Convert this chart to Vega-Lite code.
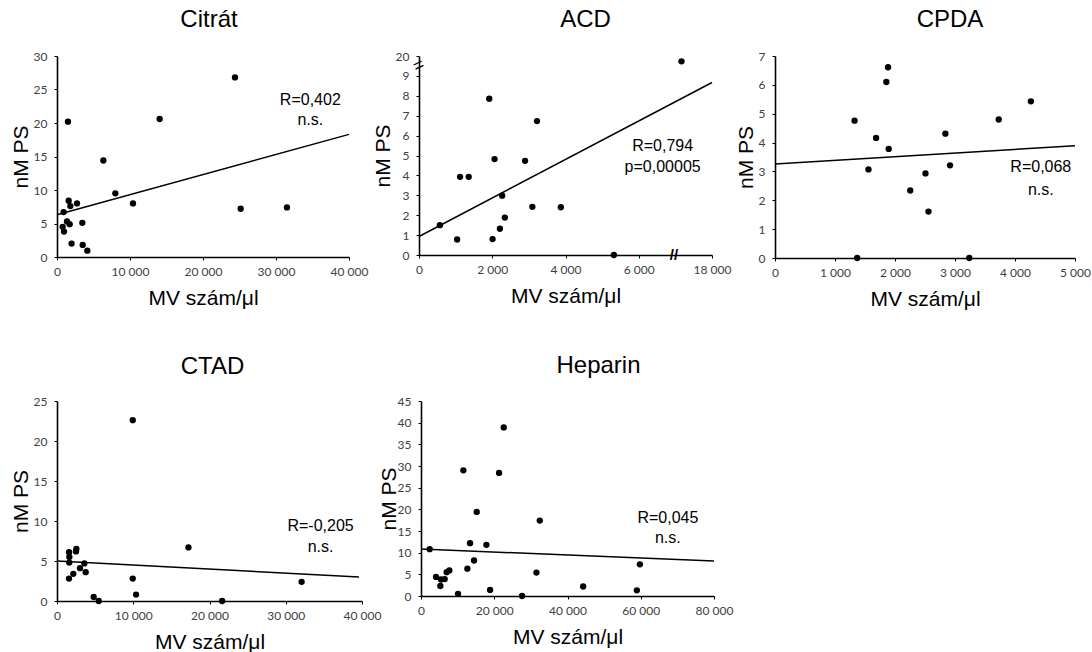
{
  "$schema": "https://vega.github.io/schema/vega-lite/v6.json",
  "padding": {"left": 10, "top": 8, "right": 0, "bottom": 0},
  "background": "white",
  "config": {
    "view": {"stroke": null},
    "axis": {"grid": false, "domainColor": "black", "domainWidth": 1.6, "tickColor": "black", "tickSize": 3, "tickWidth": 1,
      "labelFont": "Lato", "labelFontSize": 12, "labelColor": "#404040", "labelFlush": false, "labelOverlap": false, "labelBound": false,
      "titleFont": "Liberation Sans", "titleFontSize": 21, "titleFontWeight": "normal", "titleColor": "black"},
    "axisX": {"labelPadding": 6, "titlePadding": 10},
    "axisY": {"labelPadding": 7, "titlePadding": 2},
    "title": {"font": "Liberation Sans", "fontSize": 24, "fontWeight": "normal", "color": "black", "frame": "group"}
  },
  "datasets": {
    "citrat": [{"x":24380,"y":26.8},{"x":14060,"y":20.6},{"x":1500,"y":20.2},{"x":6350,"y":14.4},{"x":7990,"y":9.5},{"x":10410,"y":8.0},{"x":25160,"y":7.2},{"x":31500,"y":7.4},{"x":1600,"y":8.4},{"x":1830,"y":7.6},{"x":2740,"y":8.0},{"x":910,"y":6.7},{"x":1370,"y":5.3},{"x":1735,"y":4.9},{"x":3470,"y":5.1},{"x":776,"y":4.5},{"x":960,"y":3.8},{"x":2000,"y":2.0},{"x":3520,"y":1.8},{"x":4150,"y":0.95}],
    "citrat_fit": [{"x":0,"y":6.3},{"x":40000,"y":18.3}],
    "citrat_txt": [{"x":34700,"y":23.5,"t":"R=0,402"},{"x":34700,"y":20.5,"t":"n.s."}],
    "acd": [{"x":7167,"y":9.73},{"x":1919,"y":7.85},{"x":3222,"y":6.73},{"x":2063,"y":4.82},{"x":2896,"y":4.73},{"x":1122,"y":3.93},{"x":1357,"y":3.93},{"x":2271,"y":2.98},{"x":3095,"y":2.42},{"x":3873,"y":2.4},{"x":2344,"y":1.88},{"x":2208,"y":1.32},{"x":570,"y":1.5},{"x":1041,"y":0.78},{"x":2009,"y":0.8},{"x":5321,"y":0}],
    "acd_fit": [{"x":0,"y":0.93},{"x":8000,"y":8.67}],
    "acd_txt": [{"x":6652,"y":5.47,"t":"R=0,794"},{"x":6652,"y":4.43,"t":"p=0,00005"}],
    "acd_xbreak": [{"x":6960,"y":0}],
    "acd_ybreak": [{"x":0,"y":9.5}],
    "cpda": [{"x":1884,"y":6.61},{"x":1856,"y":6.10},{"x":4265,"y":5.43},{"x":1326,"y":4.76},{"x":3729,"y":4.80},{"x":1685,"y":4.16},{"x":2840,"y":4.31},{"x":1895,"y":3.78},{"x":1558,"y":3.07},{"x":2917,"y":3.21},{"x":2508,"y":2.93},{"x":2254,"y":2.34},{"x":2558,"y":1.61},{"x":1370,"y":0},{"x":3238,"y":0}],
    "cpda_fit": [{"x":0,"y":3.26},{"x":5000,"y":3.89}],
    "cpda_txt": [{"x":4430,"y":3.14,"t":"R=0,068"},{"x":4430,"y":2.36,"t":"n.s."}],
    "ctad": [{"x":9934,"y":22.6},{"x":17240,"y":6.7},{"x":32080,"y":2.4},{"x":9934,"y":2.8},{"x":10370,"y":0.8},{"x":21660,"y":0},{"x":4810,"y":0.5},{"x":5470,"y":0},{"x":1580,"y":6.1},{"x":2540,"y":6.5},{"x":2490,"y":6.2},{"x":1620,"y":5.5},{"x":1600,"y":4.8},{"x":3590,"y":4.7},{"x":3020,"y":4.1},{"x":3760,"y":3.6},{"x":2140,"y":3.4},{"x":1575,"y":2.8}],
    "ctad_fit": [{"x":0,"y":5.0},{"x":39600,"y":3.0}],
    "ctad_txt": [{"x":34570,"y":9.42,"t":"R=-0,205"},{"x":34570,"y":6.7,"t":"n.s."}],
    "heparin": [{"x":22590,"y":38.9},{"x":11570,"y":29.0},{"x":21320,"y":28.4},{"x":15210,"y":19.4},{"x":32430,"y":17.4},{"x":13390,"y":12.2},{"x":17860,"y":11.8},{"x":2370,"y":10.8},{"x":14480,"y":8.2},{"x":12660,"y":6.3},{"x":7740,"y":5.9},{"x":7010,"y":5.5},{"x":6470,"y":3.9},{"x":4100,"y":4.4},{"x":5470,"y":3.8},{"x":5280,"y":2.3},{"x":31520,"y":5.4},{"x":59760,"y":7.3},{"x":44270,"y":2.2},{"x":58940,"y":1.3},{"x":18860,"y":1.4},{"x":10110,"y":0.5},{"x":27600,"y":0}],
    "heparin_fit": [{"x":0,"y":10.84},{"x":80000,"y":8.1}],
    "heparin_txt": [{"x":67400,"y":17.9,"t":"R=0,045"},{"x":67400,"y":13.4,"t":"n.s."}]
  },
  "spacing": 45,
  "vconcat": [
    {
      "spacing": 4,
      "hconcat": [
        {
          "width": 292, "height": 201,
          "title": {"text": "Citrát", "dx": 6, "offset": 18},
          "encoding": {
            "x": {"field": "x", "type": "quantitative", "scale": {"domain": [0, 40000], "nice": false},
              "axis": {"values": [0, 10000, 20000, 30000, 40000], "labelExpr": "datum.value >= 1000 ? floor(datum.value / 1000) + ' 000' : datum.label", "title": "MV szám/μl"}},
            "y": {"field": "y", "type": "quantitative", "scale": {"domain": [0, 30], "nice": false},
              "axis": {"values": [0, 5, 10, 15, 20, 25, 30], "title": "nM PS"}}
          },
          "layer": [
            {"data": {"name": "citrat_fit"}, "mark": {"type": "line", "color": "black", "strokeWidth": 1.5}},
            {"data": {"name": "citrat"}, "mark": {"type": "circle", "size": 40, "color": "black", "opacity": 1}},
            {"data": {"name": "citrat_txt"}, "mark": {"type": "text", "font": "Liberation Sans", "fontSize": 16, "baseline": "middle", "color": "black"}, "encoding": {"text": {"field": "t"}}}
          ]
        },
        {
          "width": 293, "height": 199,
          "title": {"text": "ACD", "dx": 20, "offset": 18},
          "encoding": {
            "x": {"field": "x", "type": "quantitative", "scale": {"domain": [0, 8000], "nice": false},
              "axis": {"values": [0, 2000, 4000, 6000, 8000], "labelExpr": "datum.value == 8000 ? '18 000' : (datum.value >= 1000 ? floor(datum.value / 1000) + ' 000' : datum.label)", "title": "MV szám/μl"}},
            "y": {"field": "y", "type": "quantitative", "scale": {"domain": [0, 10], "nice": false},
              "axis": {"values": [0, 1, 2, 3, 4, 5, 6, 7, 8, 9, 10], "labelExpr": "datum.value == 10 ? '20' : datum.label", "title": "nM PS"}}
          },
          "layer": [
            {"data": {"name": "acd_fit"}, "mark": {"type": "line", "color": "black", "strokeWidth": 1.5}},
            {"data": {"name": "acd"}, "mark": {"type": "circle", "size": 40, "color": "black", "opacity": 1}},
            {"data": {"name": "acd_txt"}, "mark": {"type": "text", "font": "Liberation Sans", "fontSize": 16, "baseline": "middle", "color": "black"}, "encoding": {"text": {"field": "t"}}},
            {"data": {"name": "acd_xbreak"}, "mark": {"type": "text", "text": "//", "font": "Liberation Sans", "fontSize": 15, "fontWeight": "bold", "baseline": "middle", "color": "black"}},
            {"data": {"name": "acd_ybreak"}, "mark": {"type": "text", "text": "=", "font": "Liberation Sans", "fontSize": 18, "angle": -25, "baseline": "middle", "color": "black"}}
          ]
        },
        {
          "width": 300, "height": 202,
          "title": {"text": "CPDA", "dx": 25, "offset": 18},
          "encoding": {
            "x": {"field": "x", "type": "quantitative", "scale": {"domain": [0, 5000], "nice": false},
              "axis": {"values": [0, 1000, 2000, 3000, 4000, 5000], "labelExpr": "datum.value >= 1000 ? floor(datum.value / 1000) + ' 000' : datum.label", "title": "MV szám/μl"}},
            "y": {"field": "y", "type": "quantitative", "scale": {"domain": [0, 7], "nice": false},
              "axis": {"values": [0, 1, 2, 3, 4, 5, 6, 7], "title": "nM PS"}}
          },
          "layer": [
            {"data": {"name": "cpda_fit"}, "mark": {"type": "line", "color": "black", "strokeWidth": 1.5}},
            {"data": {"name": "cpda"}, "mark": {"type": "circle", "size": 40, "color": "black", "opacity": 1}},
            {"data": {"name": "cpda_txt"}, "mark": {"type": "text", "font": "Liberation Sans", "fontSize": 16, "baseline": "middle", "color": "black"}, "encoding": {"text": {"field": "t"}}}
          ]
        }
      ]
    },
    {
      "spacing": -3,
      "hconcat": [
        {
          "width": 305, "height": 200,
          "title": {"text": "CTAD", "dx": 3, "offset": 16},
          "encoding": {
            "x": {"field": "x", "type": "quantitative", "scale": {"domain": [0, 40000], "nice": false},
              "axis": {"values": [0, 10000, 20000, 30000, 40000], "labelExpr": "datum.value >= 1000 ? floor(datum.value / 1000) + ' 000' : datum.label", "title": "MV szám/μl"}},
            "y": {"field": "y", "type": "quantitative", "scale": {"domain": [0, 25], "nice": false},
              "axis": {"values": [0, 5, 10, 15, 20, 25], "title": "nM PS"}}
          },
          "layer": [
            {"data": {"name": "ctad_fit"}, "mark": {"type": "line", "color": "black", "strokeWidth": 1.5}},
            {"data": {"name": "ctad"}, "mark": {"type": "circle", "size": 40, "color": "black", "opacity": 1}},
            {"data": {"name": "ctad_txt"}, "mark": {"type": "text", "font": "Liberation Sans", "fontSize": 16, "baseline": "middle", "color": "black"}, "encoding": {"text": {"field": "t"}}}
          ]
        },
        {
          "width": 293, "height": 195,
          "title": {"text": "Heparin", "dx": 31, "offset": 17},
          "encoding": {
            "x": {"field": "x", "type": "quantitative", "scale": {"domain": [0, 80000], "nice": false},
              "axis": {"values": [0, 20000, 40000, 60000, 80000], "labelExpr": "datum.value >= 1000 ? floor(datum.value / 1000) + ' 000' : datum.label", "title": "MV szám/μl"}},
            "y": {"field": "y", "type": "quantitative", "scale": {"domain": [0, 45], "nice": false},
              "axis": {"values": [0, 5, 10, 15, 20, 25, 30, 35, 40, 45], "title": "nM PS", "titlePadding": -2}}
          },
          "layer": [
            {"data": {"name": "heparin_fit"}, "mark": {"type": "line", "color": "black", "strokeWidth": 1.5}},
            {"data": {"name": "heparin"}, "mark": {"type": "circle", "size": 40, "color": "black", "opacity": 1}},
            {"data": {"name": "heparin_txt"}, "mark": {"type": "text", "font": "Liberation Sans", "fontSize": 16, "baseline": "middle", "color": "black"}, "encoding": {"text": {"field": "t"}}}
          ]
        }
      ]
    }
  ]
}
